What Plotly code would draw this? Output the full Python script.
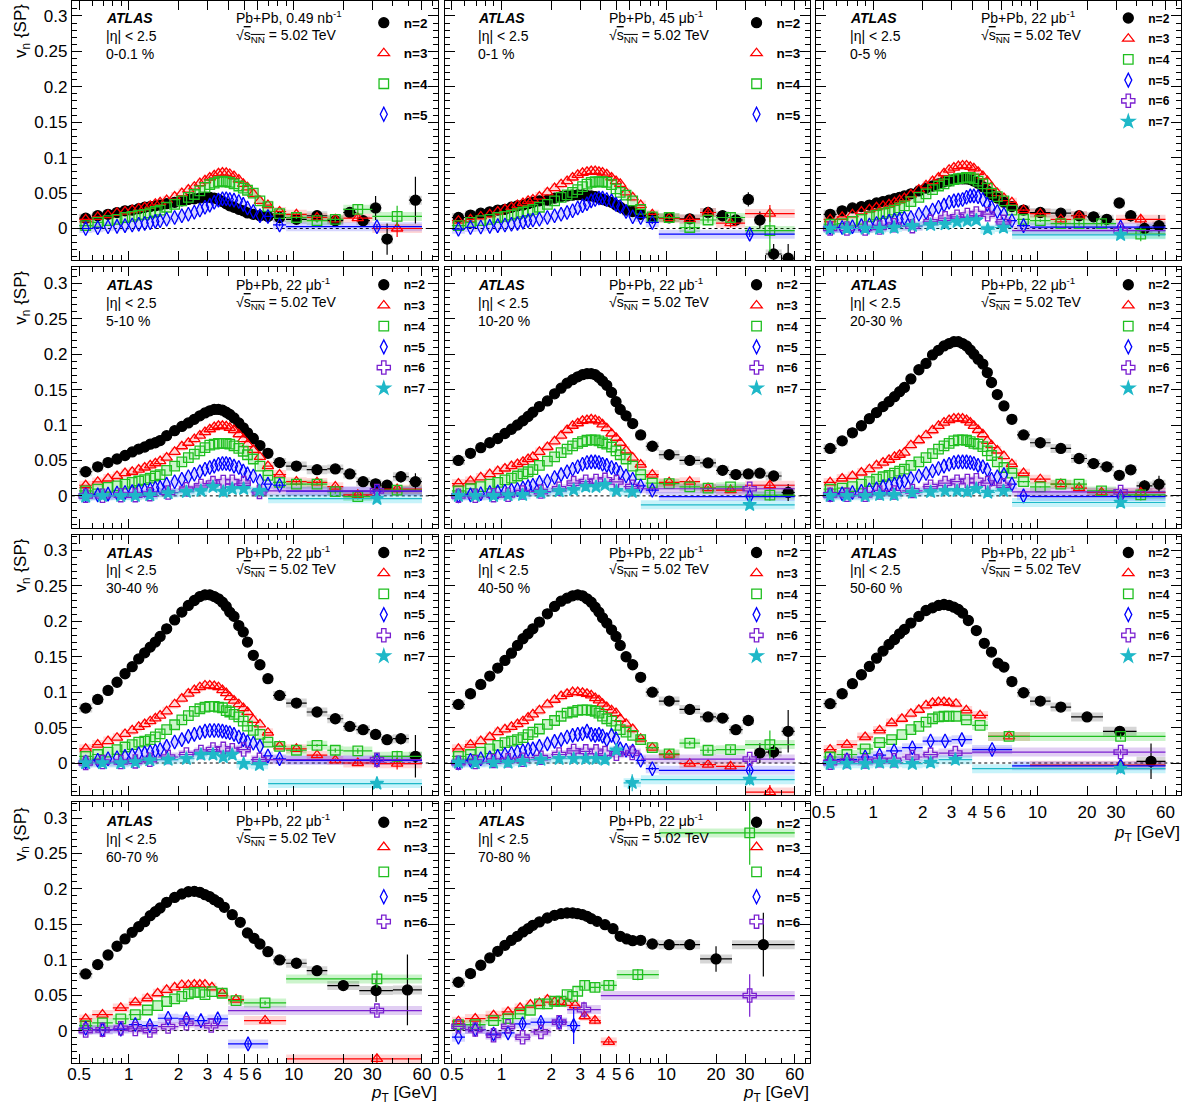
import math
import plotly.graph_objects as go

W, H = 1195, 1106
FONT = "Liberation Sans, Arial, Helvetica, sans-serif"

# ---------------- pT bin edges [GeV] ----------------
E_LOW = [0.5, 0.6, 0.7, 0.8, 0.9, 1.0, 1.1, 1.2, 1.3, 1.4, 1.5, 1.6, 1.8, 2.0, 2.2, 2.4, 2.6, 2.8,
         3.0, 3.2, 3.4, 3.6, 3.8, 4.0, 4.2, 4.5, 4.8, 5.1, 5.4, 6.0, 6.5, 7.5]
T_V2 = [9, 12, 16, 20, 24, 29, 34, 40, 50, 60]
T_HI = [9, 12, 16, 20, 30, 60]
T_V5 = [9, 60]
E_PER = [0.5, 0.6, 0.7, 0.8, 0.9, 1.0, 1.1, 1.2, 1.3, 1.4, 1.5, 1.6, 1.8, 2.0, 2.2, 2.4, 2.6, 2.8,
         3.0, 3.2, 3.4, 3.6, 4.0, 4.5, 5.0, 5.5, 6.0, 6.5, 7.5, 9, 12, 16, 25, 40, 60]
E_PER70 = [0.5, 0.6, 0.7, 0.8, 0.9, 1.0, 1.1, 1.2, 1.3, 1.4, 1.5, 1.6, 1.8, 2.0, 2.2, 2.4, 2.6, 2.8,
           3.0, 3.2, 3.4, 3.6, 4.0, 4.5, 5.0, 5.5, 6.0, 6.5, 7.5, 9, 12, 16, 25, 60]
E_HI = [0.5, 0.6, 0.8, 1.0, 1.2, 1.5, 2.0, 2.5, 3.0, 3.5, 4.0, 4.5, 5.5, 7.0, 60]
E_COARSE = [0.5, 0.6, 0.8, 1.0, 1.2, 1.4, 1.6, 1.8, 2.0, 2.2, 2.4, 2.6, 2.8, 3.0, 3.4, 4.0, 5.0, 9.0, 60]
E_R70 = [0.5, 0.6, 0.8, 1.0, 1.2, 1.4, 1.6, 1.8, 2.0, 2.2, 2.4, 2.6, 3.0, 3.4, 4.0, 5.0]
E_B = [0.5, 0.6, 0.8, 1.0, 1.2, 1.5, 2.0, 2.5, 3.0, 4.0, 7.0, 60]
E_B60 = [0.5, 0.6, 0.8, 1.0, 1.2, 1.5, 2.0, 2.5, 3.0, 4.0, 7.0]
E_B70 = [0.5, 0.6, 0.8, 1.0, 1.2, 1.5, 2.0, 2.5, 3.0]
E_P = [0.5, 0.6, 0.8, 1.0, 1.2, 1.5, 2.0, 2.5, 4.0, 60]
WIDE_BIN_PT = 32.0   # where the markers of the very wide high-pT bins are drawn

# ---------------- 0-0.1 % ----------------
C0_V2_LOW = [0.0146, 0.018, 0.020, 0.0225, 0.025, 0.026, 0.028, 0.030, 0.031, 0.032, 0.033, 0.035, 0.037, 0.039, 0.041,
             0.042, 0.043, 0.044, 0.044, 0.043, 0.041, 0.038, 0.035, 0.032, 0.030, 0.027, 0.025, 0.022, 0.020, 0.018, 0.017]
C0_V2_TAIL = [0.0155, 0.013, 0.018, 0.011, 0.0226, 0.011, 0.029, -0.015, None, 0.040]
C0_V2_TERR = [0.002, 0.002, 0.003, 0.004, 0.005, 0.007, 0.017, 0.022, 0.0, 0.033]
C0_V3_LOW = [0.013, 0.0165, 0.019, 0.022, 0.024, 0.026, 0.028, 0.030, 0.032, 0.035, 0.037, 0.040, 0.045, 0.050, 0.055,
             0.059, 0.064, 0.068, 0.072, 0.075, 0.078, 0.079, 0.0785, 0.077, 0.074, 0.069, 0.063, 0.058, 0.049, 0.039, 0.033]
C0_V3_TAIL = [0.024, 0.020, 0.0155, 0.013, 0.0146, 0.0]
C0_V3_TERR = [0.001, 0.002, 0.003, 0.004, 0.005, 0.012]
C0_V4_LOW = [0.004, 0.0085, 0.011, 0.013, 0.0155, 0.017, 0.019, 0.020, 0.022, 0.024, 0.026, 0.030, 0.034, 0.039, 0.044,
             0.048, 0.053, 0.058, 0.062, 0.064, 0.066, 0.067, 0.066, 0.065, 0.063, 0.060, 0.057, 0.054, 0.050, 0.039, 0.031]
C0_V4_TAIL = [0.021, 0.0155, 0.011, 0.013, 0.027, 0.017]
C0_V4_TERR = [0.002, 0.002, 0.003, 0.004, 0.006, 0.015]
C0_V5_LOW = [0.0, 0.001, 0.0025, 0.003, 0.004, 0.005, 0.006, 0.007, 0.008, 0.010, 0.011, 0.013, 0.0155, 0.018, 0.020,
             0.023, 0.026, 0.030, 0.033, 0.037, 0.040, 0.042, 0.042, 0.041, 0.040, 0.038, 0.034, 0.029, 0.024, 0.018, 0.017]
C0_V5_TAIL = [0.005, 0.0025]
C0_V5_TERR = [0.002, 0.004]

# ---------------- 0-1 % ----------------
C1_V2_LOW = [0.0155, 0.019, 0.0216, 0.0235, 0.026, 0.027, 0.030, 0.032, 0.033, 0.035, 0.037, 0.039, 0.040, 0.043, 0.045,
             0.046, 0.047, 0.0475, 0.0475, 0.0465, 0.046, 0.045, 0.043, 0.041, 0.039, 0.037, 0.033, 0.030, 0.026, 0.024, 0.020]
C1_V2_TAIL = [0.0155, 0.015, 0.0136, 0.0226, 0.018, 0.012, 0.041, 0.012, -0.036, -0.042]
C1_V2_TERR = [0.001, 0.002, 0.002, 0.003, 0.004, 0.005, 0.010, 0.012, 0.014, 0.020]
C1_V3_LOW = [0.011, 0.013, 0.017, 0.020, 0.024, 0.027, 0.030, 0.033, 0.036, 0.039, 0.041, 0.045, 0.051, 0.057, 0.0625,
             0.067, 0.072, 0.0757, 0.0785, 0.080, 0.081, 0.081, 0.080, 0.079, 0.0766, 0.072, 0.067, 0.063, 0.051, 0.044, 0.033]
C1_V3_TAIL = [0.020, 0.0146, 0.013, 0.0226, 0.0075, 0.021]
C1_V3_TERR = [0.001, 0.002, 0.003, 0.004, 0.006, 0.012]
C1_V4_LOW = [0.004, 0.0085, 0.011, 0.013, 0.0155, 0.017, 0.019, 0.021, 0.023, 0.025, 0.027, 0.030, 0.034, 0.039, 0.044,
             0.0475, 0.051, 0.055, 0.059, 0.0625, 0.065, 0.066, 0.066, 0.066, 0.065, 0.062, 0.056, 0.051, 0.047, 0.039, 0.027]
C1_V4_TAIL = [0.0165, 0.0155, 0.0014, 0.012, 0.0155, -0.003]
C1_V4_TERR = [0.001, 0.002, 0.003, 0.004, 0.006, 0.030]
C1_V5_LOW = [-0.001, 0.0014, 0.002, 0.003, 0.004, 0.005, 0.006, 0.007, 0.009, 0.011, 0.012, 0.013, 0.0155, 0.018, 0.020,
             0.0226, 0.025, 0.029, 0.032, 0.035, 0.039, 0.041, 0.043, 0.043, 0.041, 0.039, 0.034, 0.031, 0.024, 0.0165, 0.0155]
C1_V5_TAIL = [0.0085, -0.008]
C1_V5_TERR = [0.002, 0.004]

# ---------------- 0-5 % ----------------
C2_V2_LOW = [0.020, 0.025, 0.029, 0.031, 0.033, 0.036, 0.038, 0.040, 0.042, 0.044, 0.046, 0.049, 0.053, 0.057, 0.060,
             0.063, 0.066, 0.067, 0.069, 0.070, 0.070, 0.070, 0.069, 0.067, 0.064, 0.059, 0.053, 0.048, 0.043, 0.037, 0.031]
C2_V2_TAIL = [0.026, 0.0226, 0.0216, 0.018, 0.0165, 0.013, 0.036, 0.018, 0.0, 0.004]
C2_V2_TERR = [0.001, 0.002, 0.002, 0.003, 0.003, 0.004, 0.005, 0.008, 0.010, 0.015]
C2_V3_LOW = [0.013, 0.0165, 0.020, 0.024, 0.027, 0.030, 0.032, 0.034, 0.037, 0.040, 0.043, 0.048, 0.055, 0.061, 0.067,
             0.072, 0.078, 0.083, 0.086, 0.088, 0.089, 0.089, 0.087, 0.085, 0.080, 0.074, 0.067, 0.059, 0.050, 0.043, 0.037]
C2_V3_TAIL = [0.026, 0.021, 0.013, 0.018, None, 0.013]
C2_V3_TERR = [0.001, 0.002, 0.003, 0.004, 0.0, 0.006]
C2_V4_LOW = [0.006, 0.007, 0.010, 0.013, 0.0165, 0.019, 0.021, 0.023, 0.026, 0.029, 0.032, 0.038, 0.044, 0.049, 0.055,
             0.060, 0.063, 0.067, 0.069, 0.0705, 0.071, 0.072, 0.072, 0.070, 0.067, 0.063, 0.057, 0.050, 0.045, 0.039, 0.026]
C2_V4_TAIL = [0.013, 0.011, 0.007, 0.007, 0.007, -0.008]
C2_V4_TERR = [0.001, 0.002, 0.002, 0.003, 0.004, 0.010]
C2_V5_LOW = [0.0014, 0.0014, 0.0025, 0.004, 0.005, 0.007, 0.0085, 0.010, 0.012, 0.013, 0.0145, 0.0155, 0.020, 0.0226, 0.026,
             0.030, 0.033, 0.037, 0.039, 0.040, 0.041, 0.044, 0.046, 0.046, 0.045, 0.041, 0.034, 0.030, 0.024, 0.020, 0.011]
C2_V5_TAIL = [0.004, 0.002]
C2_V5_TERR = [0.002, 0.003]
C2_V6 = [0.0, 0.0, 0.0, 0.0014, 0.0047, 0.0033, 0.0094, 0.0146, 0.0165, 0.019, 0.0212, 0.0202, 0.0094, -0.003]
C2_V6_TERR = [0.003]
C2_V7 = [0.0, 0.0, 0.0, 0.0, 0.0014, 0.0038, 0.0052, 0.0061, 0.0094, 0.0108, 0.0118, -0.0009, 0.0014, -0.009]
C2_V7_TERR = [0.004]

# ---------------- 5-10 % ----------------
C3_V2_LOW = [0.034, 0.041, 0.047, 0.052, 0.057, 0.062, 0.066, 0.069, 0.073, 0.075, 0.078, 0.085, 0.092, 0.098, 0.103,
             0.108, 0.113, 0.117, 0.120, 0.122, 0.122, 0.121, 0.118, 0.115, 0.110, 0.103, 0.096, 0.089, 0.081, 0.071, 0.060]
C3_V2_TAIL = [0.047, 0.042, 0.037, 0.038, 0.031, 0.020, 0.017, 0.015, 0.027, 0.020]
C3_V2_TERR = [0.001, 0.001, 0.002, 0.002, 0.003, 0.003, 0.004, 0.006, 0.008, 0.012]
C3_V3_LOW = [0.015, 0.0197, 0.0245, 0.028, 0.032, 0.034, 0.037, 0.040, 0.043, 0.046, 0.049, 0.054, 0.062, 0.070, 0.075,
             0.080, 0.085, 0.090, 0.094, 0.097, 0.099, 0.099, 0.098, 0.096, 0.093, 0.087, 0.080, 0.073, 0.065, 0.055, 0.042]
C3_V3_TAIL = [0.030, 0.020, 0.019, 0.013, 0.0014, 0.0094]
C3_V3_TERR = [0.001, 0.002, 0.002, 0.003, 0.004, 0.006]
C3_V4_LOW = [0.007, 0.0094, 0.012, 0.014, 0.0165, 0.019, 0.021, 0.023, 0.025, 0.028, 0.030, 0.036, 0.042, 0.048, 0.054,
             0.059, 0.0635, 0.068, 0.0715, 0.073, 0.074, 0.074, 0.074, 0.073, 0.0705, 0.067, 0.063, 0.058, 0.052, 0.042, 0.029]
C3_V4_TAIL = [0.019, 0.0165, 0.0165, 0.006, -0.001, 0.008]
C3_V4_TERR = [0.001, 0.002, 0.002, 0.003, 0.004, 0.006]
C3_V5_LOW = [0.0014, 0.0014, 0.0024, 0.004, 0.0047, 0.006, 0.007, 0.008, 0.009, 0.011, 0.012, 0.0165, 0.020, 0.0235, 0.027,
             0.0306, 0.034, 0.0376, 0.040, 0.042, 0.0447, 0.0456, 0.0456, 0.0447, 0.042, 0.040, 0.035, 0.031, 0.028, 0.021, 0.0165]
C3_V5_TAIL = [0.015, 0.0066]
C3_V5_TERR = [0.002, 0.003]
C3_V6 = [0.0, 0.0, 0.001, 0.001, 0.0024, 0.0047, 0.0094, 0.014, 0.018, 0.0197, 0.020, 0.018, 0.0056, 0.007]
C3_V6_TERR = [0.003]
C3_V7 = [-0.001, 0.0, 0.0, 0.0, 0.001, 0.004, 0.0056, 0.007, 0.0127, 0.006, 0.010, 0.010, 0.007, -0.004]
C3_V7_TERR = [0.004]

# ---------------- 10-20 % ----------------
C4_V2_LOW = [0.050, 0.060, 0.068, 0.075, 0.081, 0.088, 0.094, 0.100, 0.106, 0.112, 0.118, 0.126, 0.134, 0.144, 0.152,
             0.159, 0.164, 0.168, 0.171, 0.1725, 0.1725, 0.171, 0.167, 0.162, 0.156, 0.146, 0.133, 0.122, 0.113, 0.102, 0.086]
C4_V2_TAIL = [0.070, 0.058, 0.050, 0.0465, 0.036, 0.030, 0.031, 0.032, 0.028, 0.0047]
C4_V2_TERR = [0.001, 0.001, 0.001, 0.002, 0.002, 0.003, 0.004, 0.006, 0.006, 0.012]
C4_V3_LOW = [0.0174, 0.021, 0.026, 0.0306, 0.035, 0.0386, 0.042, 0.045, 0.048, 0.052, 0.055, 0.062, 0.069, 0.077, 0.085,
             0.093, 0.099, 0.1025, 0.106, 0.107, 0.108, 0.107, 0.105, 0.101, 0.0955, 0.088, 0.082, 0.075, 0.064, 0.054, 0.044]
C4_V3_TAIL = [0.030, 0.019, 0.020, 0.011, 0.008, 0.015]
C4_V3_TERR = [0.001, 0.001, 0.002, 0.003, 0.004, 0.006]
C4_V4_LOW = [0.007, 0.010, 0.013, 0.0165, 0.019, 0.0226, 0.025, 0.028, 0.031, 0.034, 0.037, 0.043, 0.049, 0.055, 0.061,
             0.066, 0.0705, 0.074, 0.0766, 0.0785, 0.079, 0.079, 0.0775, 0.075, 0.073, 0.069, 0.0635, 0.058, 0.052, 0.042, 0.030]
C4_V4_TAIL = [0.018, 0.0174, 0.0127, 0.011, 0.0127, 0.001]
C4_V4_TERR = [0.001, 0.001, 0.002, 0.003, 0.004, 0.008]
C4_V5_LOW = [0.0, 0.0014, 0.003, 0.0047, 0.0056, 0.0066, 0.008, 0.009, 0.011, 0.013, 0.015, 0.019, 0.021, 0.026, 0.030,
             0.034, 0.0376, 0.041, 0.0447, 0.047, 0.048, 0.048, 0.047, 0.0447, 0.043, 0.040, 0.0376, 0.033, 0.028, 0.0235, 0.014]
C4_V5_TAIL = [0.008, -0.001]
C4_V5_TERR = [0.002, 0.003]
C4_V6 = [0.0, 0.0, 0.001, 0.0014, 0.0047, 0.006, 0.010, 0.018, 0.020, 0.021, 0.0226, 0.0197, 0.013, 0.010]
C4_V6_TERR = [0.003]
C4_V7 = [0.0, 0.0, 0.0, 0.001, 0.0014, 0.0047, 0.0066, 0.0085, 0.013, 0.0127, 0.0155, 0.007, 0.0056, -0.0127]
C4_V7_TERR = [0.005]

# ---------------- 20-30 % ----------------
C5_V2_LOW = [0.067, 0.0776, 0.089, 0.099, 0.109, 0.1175, 0.126, 0.133, 0.140, 0.147, 0.153, 0.165, 0.178, 0.187, 0.199,
             0.2055, 0.2116, 0.215, 0.2177, 0.2177, 0.215, 0.2116, 0.206, 0.200, 0.193, 0.186, 0.174, 0.160, 0.143, 0.127, 0.108]
C5_V2_TAIL = [0.086, 0.075, 0.067, 0.0527, 0.0456, 0.041, 0.029, 0.0367, 0.014, 0.0165]
C5_V2_TERR = [0.001, 0.001, 0.002, 0.002, 0.003, 0.003, 0.004, 0.006, 0.008, 0.012]
C5_V3_LOW = [0.019, 0.0245, 0.028, 0.033, 0.0376, 0.043, 0.047, 0.051, 0.055, 0.058, 0.061, 0.0715, 0.0785, 0.0856, 0.0926,
             0.0987, 0.1034, 0.107, 0.109, 0.1095, 0.109, 0.107, 0.1034, 0.0987, 0.093, 0.087, 0.0776, 0.0715, 0.064, 0.056, 0.0447]
C5_V3_TAIL = [0.032, 0.0235, 0.0165, 0.011, 0.0047, 0.0047]
C5_V3_TERR = [0.001, 0.001, 0.002, 0.003, 0.004, 0.006]
C5_V4_LOW = [0.0094, 0.011, 0.013, 0.0165, 0.020, 0.0235, 0.027, 0.029, 0.032, 0.035, 0.0376, 0.043, 0.048, 0.054, 0.0597,
             0.066, 0.0705, 0.074, 0.0776, 0.079, 0.079, 0.0785, 0.0766, 0.074, 0.073, 0.0696, 0.0635, 0.057, 0.048, 0.040, 0.032]
C5_V4_TAIL = [0.020, 0.0127, 0.0165, 0.0165, 0.007, 0.0014]
C5_V4_TERR = [0.001, 0.001, 0.002, 0.003, 0.004, 0.008]
C5_V5_LOW = [0.0014, 0.003, 0.0047, 0.0066, 0.0085, 0.010, 0.013, 0.015, 0.0165, 0.019, 0.021, 0.0245, 0.028, 0.0315, 0.035,
             0.0386, 0.042, 0.0447, 0.047, 0.048, 0.048, 0.048, 0.047, 0.0456, 0.043, 0.041, 0.0367, 0.0235, 0.027, 0.030, 0.0165]
C5_V5_TAIL = [0.0, -0.001]
C5_V5_TERR = [0.002, 0.003]
C5_V6 = [0.0014, 0.0014, 0.0014, 0.0047, 0.0047, 0.007, 0.013, 0.018, 0.020, 0.021, 0.022, 0.018, 0.015, 0.0056]
C5_V6_TERR = [0.003]
C5_V7 = [0.0, 0.0, 0.0, 0.0014, 0.0014, 0.0047, 0.0056, 0.007, 0.007, 0.006, 0.010, 0.0047, 0.007, -0.0094]
C5_V7_TERR = [0.005]

# ---------------- 30-40 % ----------------
C6_V2_LOW = [0.0776, 0.0898, 0.1025, 0.114, 0.126, 0.136, 0.147, 0.1556, 0.1636, 0.1707, 0.1787, 0.1895, 0.202, 0.213, 0.2224,
             0.2294, 0.235, 0.2374, 0.2374, 0.235, 0.2318, 0.227, 0.221, 0.213, 0.207, 0.194, 0.185, 0.1707, 0.152, 0.1387, 0.119]
C6_V2_TAIL = [0.0954, 0.0846, 0.072, 0.0625, 0.0517, 0.047, 0.0404, 0.033, 0.0343, 0.0094]
C6_V2_TERR = [0.001, 0.001, 0.002, 0.002, 0.003, 0.003, 0.004, 0.006, 0.008, 0.030]
C6_V3_LOW = [0.020, 0.026, 0.031, 0.0357, 0.041, 0.046, 0.051, 0.055, 0.059, 0.063, 0.067, 0.073, 0.083, 0.091, 0.098,
             0.103, 0.107, 0.1095, 0.1095, 0.1086, 0.107, 0.103, 0.0987, 0.093, 0.088, 0.083, 0.0776, 0.072, 0.061, 0.0545, 0.0428]
C6_V3_TAIL = [0.0235, 0.020, 0.011, 0.0038, 0.0, -0.001]
C6_V3_TERR = [0.001, 0.001, 0.002, 0.003, 0.004, 0.008]
C6_V4_LOW = [0.0094, 0.012, 0.0155, 0.019, 0.0226, 0.026, 0.0296, 0.031, 0.033, 0.037, 0.041, 0.047, 0.054, 0.061, 0.067,
             0.073, 0.0766, 0.079, 0.080, 0.080, 0.079, 0.078, 0.074, 0.072, 0.0686, 0.065, 0.059, 0.052, 0.046, 0.0404, 0.0296]
C6_V4_TAIL = [0.0235, 0.018, 0.025, 0.018, 0.017, 0.0094]
C6_V4_TERR = [0.001, 0.001, 0.002, 0.003, 0.004, 0.008]
C6_V5_LOW = [0.0014, 0.004, 0.006, 0.0075, 0.0094, 0.011, 0.013, 0.014, 0.0155, 0.017, 0.019, 0.0235, 0.0296, 0.033, 0.0376,
             0.0404, 0.0428, 0.045, 0.046, 0.046, 0.046, 0.045, 0.0437, 0.0428, 0.0404, 0.0367, 0.033, 0.030, 0.028, 0.0235, 0.010]
C6_V5_TAIL = [0.006, 0.0038]
C6_V5_TERR = [0.002, 0.003]
C6_V6 = [0.0, 0.0014, 0.0014, 0.0023, 0.0047, 0.0085, 0.012, 0.0155, 0.019, 0.020, 0.018, 0.019, 0.0047, 0.0047]
C6_V6_TERR = [0.004]
C6_V7 = [0.0, 0.0, 0.0, 0.0014, 0.004, 0.0047, 0.006, 0.0118, 0.012, 0.0085, 0.0118, -0.001, -0.0024, -0.029]
C6_V7_TERR = [0.007]

# ---------------- 40-50 % ----------------
C7_V2_LOW = [0.0827, 0.0978, 0.111, 0.1227, 0.134, 0.1448, 0.155, 0.166, 0.1754, 0.1824, 0.1895, 0.1989, 0.2106, 0.221, 0.2285,
             0.2327, 0.236, 0.2374, 0.236, 0.2318, 0.227, 0.220, 0.213, 0.205, 0.1975, 0.188, 0.1787, 0.166, 0.150, 0.1387, 0.121]
C7_V2_TAIL = [0.100, 0.0874, 0.0757, 0.065, 0.0635, 0.047, 0.060, 0.014, 0.0155, 0.0447]
C7_V2_TERR = [0.001, 0.002, 0.002, 0.003, 0.004, 0.004, 0.006, 0.014, 0.010, 0.030]
C7_V3_LOW = [0.020, 0.026, 0.031, 0.0367, 0.0437, 0.0475, 0.051, 0.055, 0.059, 0.064, 0.0686, 0.0743, 0.0827, 0.0893, 0.0945,
             0.0978, 0.100, 0.100, 0.099, 0.0978, 0.0954, 0.0917, 0.0884, 0.0837, 0.079, 0.0743, 0.0705, 0.0625, 0.0555, 0.048, 0.0343]
C7_V3_TAIL = [0.0216, 0.0118, -0.001, -0.0024, -0.0047, -0.041]
C7_V3_TERR = [0.001, 0.002, 0.002, 0.003, 0.004, 0.010]
C7_V4_LOW = [0.0094, 0.012, 0.0155, 0.020, 0.025, 0.0287, 0.031, 0.033, 0.0357, 0.040, 0.0437, 0.048, 0.0545, 0.060, 0.066,
             0.0705, 0.072, 0.0743, 0.075, 0.075, 0.0743, 0.073, 0.0705, 0.0663, 0.0625, 0.059, 0.053, 0.047, 0.0437, 0.039, 0.033]
C7_V4_TAIL = [0.0216, 0.013, 0.028, 0.018, 0.0188, 0.026]
C7_V4_TERR = [0.001, 0.002, 0.003, 0.004, 0.005, 0.020]
C7_V5_LOW = [0.0, 0.0038, 0.006, 0.0075, 0.0094, 0.012, 0.0135, 0.0155, 0.017, 0.019, 0.020, 0.0235, 0.027, 0.0306, 0.033,
             0.0367, 0.039, 0.0404, 0.0414, 0.045, 0.0404, 0.039, 0.0404, 0.038, 0.033, 0.039, 0.0343, 0.020, 0.018, 0.017, 0.0038]
C7_V5_TAIL = [-0.008, -0.0103]
C7_V5_TERR = [0.002, 0.004]
C7_V6 = [0.0005, 0.0014, 0.0028, 0.0038, 0.0047, 0.0075, 0.012, 0.017, 0.0165, 0.0165, 0.014, 0.013, 0.014, 0.0056]
C7_V6_TERR = [0.004]
C7_V7 = [0.0005, 0.0, 0.0005, 0.0005, 0.0023, 0.0047, 0.006, 0.006, 0.006, 0.006, 0.0047, 0.018, -0.028, -0.0235]
C7_V7_TERR = [0.012, 0.008]

# ---------------- 50-60 % ----------------
C8_V2 = [0.0837, 0.0978, 0.112, 0.1246, 0.1363, 0.148, 0.158, 0.1674, 0.1744, 0.1824, 0.1885, 0.1975, 0.2069, 0.2153, 0.219,
         0.2224, 0.2238, 0.2224, 0.220, 0.2167, 0.2116, 0.2012, 0.187, 0.169, 0.1566, 0.141, 0.1354, 0.115, 0.0992, 0.0874,
         0.079, 0.065, 0.0447, 0.0024]
C8_V2_TERR = [0.001, 0.002, 0.002, 0.004, 0.006, 0.025]
C8_V3 = [0.019, 0.026, 0.0367, 0.046, 0.0564, 0.0625, 0.0696, 0.0752, 0.0813, 0.085, 0.086, 0.086, 0.085, 0.0837, 0.0743,
         0.0672, 0.0376, -0.003]
C8_V3_TERR = [0.003, 0.004]
C8_V4 = [0.0085, 0.012, 0.020, 0.0287, 0.033, 0.040, 0.047, 0.0517, 0.0578, 0.0625, 0.065, 0.066, 0.066, 0.066, 0.061,
         0.053, 0.0376, 0.0376]
C8_V4_TERR = [0.003, 0.004]
C8_V5 = [0.0038, 0.0047, 0.0085, 0.011, 0.017, 0.0216, 0.031, 0.031, 0.033, 0.019, -0.004]
C8_V5_TERR = [0.003, 0.004]
C8_V6 = [0.0005, 0.0028, 0.0023, 0.0038, 0.0038, 0.0085, 0.0118, 0.014, 0.0155]
C8_V6_TERR = [0.004]
C8_V7 = [-0.001, -0.001, -0.001, 0.0005, 0.0005, -0.001, 0.0005, 0.0047, -0.008]
C8_V7_TERR = [0.005]

# ---------------- 60-70 % ----------------
C9_V2 = [0.0799, 0.0931, 0.1067, 0.119, 0.1293, 0.1387, 0.1467, 0.1537, 0.1622, 0.1679, 0.173, 0.181, 0.188, 0.1928, 0.196,
         0.1965, 0.1951, 0.1918, 0.189, 0.1848, 0.181, 0.174, 0.1636, 0.1528, 0.1378, 0.1302, 0.1222, 0.1114, 0.0997, 0.095,
         0.0846, 0.0635, 0.0564, 0.0574]
C9_V2_TERR = [0.002, 0.003, 0.004, 0.005, 0.016, 0.050]
C9_V3 = [0.0165, 0.0226, 0.032, 0.040, 0.0456, 0.0527, 0.0574, 0.0611, 0.0644, 0.0644, 0.0649, 0.0649, 0.0649, 0.0611, 0.0527,
         0.0437, 0.0141, -0.040]
C9_V3_TERR = [0.003, 0.006]
C9_V4 = [0.007, 0.0108, 0.0165, 0.0226, 0.029, 0.0353, 0.041, 0.0447, 0.0484, 0.0517, 0.054, 0.054, 0.0508, 0.055, 0.0527,
         0.0423, 0.039, 0.0729]
C9_V4_TERR = [0.003, 0.012]
C9_V5 = [0.0033, 0.001, 0.002, 0.0085, 0.007, 0.0174, 0.0165, 0.0141, 0.0165, -0.0188]
C9_V5_TERR = [0.004, 0.005]
C9_V6 = [0.0, 0.001, 0.0033, 0.0023, 0.0, 0.0056, 0.0103, 0.007, 0.0282]
C9_V6_TERR = [0.004, 0.006]

# ---------------- 70-80 % ----------------
C10_V2 = [0.0682, 0.0804, 0.0922, 0.1025, 0.1119, 0.1204, 0.1274, 0.1331, 0.1392, 0.1439, 0.1486, 0.1533, 0.1589, 0.1627,
          0.165, 0.166, 0.166, 0.165, 0.1636, 0.1613, 0.158, 0.1542, 0.1495, 0.1439, 0.1331, 0.1293, 0.1269, 0.1274, 0.1222,
          0.1213, 0.1213, 0.1011, 0.1213]
C10_V2_TERR = [0.002, 0.003, 0.004, 0.005, 0.018, 0.045]
C10_V3 = [0.0132, 0.0169, 0.0216, 0.0263, 0.032, 0.0367, 0.039, 0.0437, 0.0404, 0.0404, 0.039, 0.0357, 0.0202, 0.0141, -0.016]
C10_V3_TERR = [0.004, 0.005, 0.004]
C10_V4 = [0.0085, 0.0085, 0.0141, 0.0169, 0.0235, 0.0287, 0.0376, 0.0376, 0.0414, 0.0414, 0.0508, 0.0484, 0.0555, 0.0639,
          0.0611, 0.0639, 0.079, 0.279]
C10_V4_TERR = [0.006, 0.007, 0.006, 0.008, 0.045]
C10_V5 = [-0.0094, 0.0014, -0.005, -0.0033, 0.0094, 0.0118, 0.0118, 0.007]
C10_V5_TERR = [0.005, 0.005, 0.005, 0.026]
C10_V6 = [0.006, 0.0014, -0.0066, 0.006, -0.0094, -0.0019, 0.0118, 0.0296, 0.0494]
C10_V6_TERR = [0.011, 0.030]

CENTRALITY = ["0-0.1 %", "0-1 %", "0-5 %", "5-10 %", "10-20 %", "20-30 %", "30-40 %", "40-50 %", "50-60 %",
              "60-70 %", "70-80 %"]
LUMI = ["0.49 nb<sup>-1</sup>", "45 μb<sup>-1</sup>"] + ["22 μb<sup>-1</sup>"] * 9

X_TICKS = [0.5, 1, 2, 3, 4, 5, 6, 10, 20, 30, 60]
X_TICKTEXT = ["0.5", "1", "2", "3", "4", "5", "6", "10", "20", "30", "60"]
X_MINOR = [0.6, 0.7, 0.8, 0.9, 7, 8, 9, 40, 50, 70]
Y_TICKS = [0, 0.05, 0.1, 0.15, 0.2, 0.25, 0.3]
Y_TICKTEXT = ["0", "0.05", "0.1", "0.15", "0.2", "0.25", "0.3"]


def fine(low, tail, tail_edges, tail_err):
    return (E_LOW + tail_edges, low + tail, [0.0] * len(low) + tail_err)


def coarse(edges, vals, tail_err):
    return (edges, vals, [0.0] * (len(vals) - len(tail_err)) + tail_err)


PANEL_SERIES = [
    {2: fine(C0_V2_LOW, C0_V2_TAIL, T_V2, C0_V2_TERR), 3: fine(C0_V3_LOW, C0_V3_TAIL, T_HI, C0_V3_TERR),
     4: fine(C0_V4_LOW, C0_V4_TAIL, T_HI, C0_V4_TERR), 5: fine(C0_V5_LOW, C0_V5_TAIL, T_V5, C0_V5_TERR)},
    {2: fine(C1_V2_LOW, C1_V2_TAIL, T_V2, C1_V2_TERR), 3: fine(C1_V3_LOW, C1_V3_TAIL, T_HI, C1_V3_TERR),
     4: fine(C1_V4_LOW, C1_V4_TAIL, T_HI, C1_V4_TERR), 5: fine(C1_V5_LOW, C1_V5_TAIL, T_V5, C1_V5_TERR)},
    {2: fine(C2_V2_LOW, C2_V2_TAIL, T_V2, C2_V2_TERR), 3: fine(C2_V3_LOW, C2_V3_TAIL, T_HI, C2_V3_TERR),
     4: fine(C2_V4_LOW, C2_V4_TAIL, T_HI, C2_V4_TERR), 5: fine(C2_V5_LOW, C2_V5_TAIL, T_V5, C2_V5_TERR),
     6: coarse(E_HI, C2_V6, C2_V6_TERR), 7: coarse(E_HI, C2_V7, C2_V7_TERR)},
    {2: fine(C3_V2_LOW, C3_V2_TAIL, T_V2, C3_V2_TERR), 3: fine(C3_V3_LOW, C3_V3_TAIL, T_HI, C3_V3_TERR),
     4: fine(C3_V4_LOW, C3_V4_TAIL, T_HI, C3_V4_TERR), 5: fine(C3_V5_LOW, C3_V5_TAIL, T_V5, C3_V5_TERR),
     6: coarse(E_HI, C3_V6, C3_V6_TERR), 7: coarse(E_HI, C3_V7, C3_V7_TERR)},
    {2: fine(C4_V2_LOW, C4_V2_TAIL, T_V2, C4_V2_TERR), 3: fine(C4_V3_LOW, C4_V3_TAIL, T_HI, C4_V3_TERR),
     4: fine(C4_V4_LOW, C4_V4_TAIL, T_HI, C4_V4_TERR), 5: fine(C4_V5_LOW, C4_V5_TAIL, T_V5, C4_V5_TERR),
     6: coarse(E_HI, C4_V6, C4_V6_TERR), 7: coarse(E_HI, C4_V7, C4_V7_TERR)},
    {2: fine(C5_V2_LOW, C5_V2_TAIL, T_V2, C5_V2_TERR), 3: fine(C5_V3_LOW, C5_V3_TAIL, T_HI, C5_V3_TERR),
     4: fine(C5_V4_LOW, C5_V4_TAIL, T_HI, C5_V4_TERR), 5: fine(C5_V5_LOW, C5_V5_TAIL, T_V5, C5_V5_TERR),
     6: coarse(E_HI, C5_V6, C5_V6_TERR), 7: coarse(E_HI, C5_V7, C5_V7_TERR)},
    {2: fine(C6_V2_LOW, C6_V2_TAIL, T_V2, C6_V2_TERR), 3: fine(C6_V3_LOW, C6_V3_TAIL, T_HI, C6_V3_TERR),
     4: fine(C6_V4_LOW, C6_V4_TAIL, T_HI, C6_V4_TERR), 5: fine(C6_V5_LOW, C6_V5_TAIL, T_V5, C6_V5_TERR),
     6: coarse(E_HI, C6_V6, C6_V6_TERR), 7: coarse(E_HI, C6_V7, C6_V7_TERR)},
    {2: fine(C7_V2_LOW, C7_V2_TAIL, T_V2, C7_V2_TERR), 3: fine(C7_V3_LOW, C7_V3_TAIL, T_HI, C7_V3_TERR),
     4: fine(C7_V4_LOW, C7_V4_TAIL, T_HI, C7_V4_TERR), 5: fine(C7_V5_LOW, C7_V5_TAIL, T_V5, C7_V5_TERR),
     6: coarse(E_HI, C7_V6, C7_V6_TERR), 7: coarse(E_HI, C7_V7, C7_V7_TERR)},
    {2: coarse(E_PER, C8_V2, C8_V2_TERR), 3: coarse(E_COARSE, C8_V3, C8_V3_TERR),
     4: coarse(E_COARSE, C8_V4, C8_V4_TERR), 5: coarse(E_B, C8_V5, C8_V5_TERR),
     6: coarse(E_P, C8_V6, C8_V6_TERR), 7: coarse(E_P, C8_V7, C8_V7_TERR)},
    {2: coarse(E_PER, C9_V2, C9_V2_TERR), 3: coarse(E_COARSE, C9_V3, C9_V3_TERR),
     4: coarse(E_COARSE, C9_V4, C9_V4_TERR), 5: coarse(E_B60, C9_V5, C9_V5_TERR),
     6: coarse(E_P, C9_V6, C9_V6_TERR)},
    {2: coarse(E_PER70, C10_V2, C10_V2_TERR), 3: coarse(E_R70, C10_V3, C10_V3_TERR),
     4: coarse(E_COARSE, C10_V4, C10_V4_TERR), 5: coarse(E_B70, C10_V5, C10_V5_TERR),
     6: coarse(E_P, C10_V6, C10_V6_TERR)},
]

# ---------------- styling / layout ----------------
COLORS = {2: "#000000", 3: "#ff0000", 4: "#1fbf1f", 5: "#0000ff", 6: "#7a1fd0", 7: "#1fb8c8"}
SYST_COLORS = {2: "rgba(0,0,0,0.16)", 3: "rgba(255,0,0,0.16)", 4: "rgba(0,200,0,0.2)", 5: "rgba(0,0,255,0.16)",
               6: "rgba(120,30,200,0.22)", 7: "rgba(0,200,230,0.22)"}
SYMBOLS = {2: "circle", 3: "triangle-up-open", 4: "square-open", 5: "diamond-tall-open", 6: "cross-open", 7: "star"}
SIZES = {2: 10, 3: 10, 4: 9.5, 5: 10, 6: 11, 7: 10}

COL_PX = [(68, 435), (442, 809), (815, 1181)]
ROW_PX = [(0, 259.5), (266, 527), (534, 795), (802, 1063)]
ROW_TEXT_TOP = [-1, 266, 534, 803]
ROW_ZERO_PX = [227.7, 495.3, 762.7, 1030.5]
PX_PER_UNIT = 709.0
X_RANGE = [math.log10(0.451), math.log10(74.6)]
LEGEND_STYLE = {4: dict(size=13.5, top=7.4, gap=10), 5: dict(size=13.5, top=3.7, gap=4.3),
                6: dict(size=12, top=3.5, gap=1.7)}

fig = go.Figure()
annotations = []
shapes = []
layout = dict(width=W, height=H, margin=dict(l=0, r=0, t=0, b=0), paper_bgcolor="white",
              plot_bgcolor="white", font=dict(family=FONT, size=16, color="black"), showlegend=True)


def px_x(px):
    return px / W


def px_y(py):
    return 1 - py / H


for i, series in enumerate(PANEL_SERIES):
    row, col = divmod(i, 3)
    k = i + 1
    xs_id = "x" if k == 1 else f"x{k}"
    ys_id = "y" if k == 1 else f"y{k}"
    leg_id = "legend" if k == 1 else f"legend{k}"
    L, R = COL_PX[col]
    T, B = ROW_PX[row]
    z0 = ROW_ZERO_PX[row]
    yr = [-(B - z0) / PX_PER_UNIT, (z0 - T) / PX_PER_UNIT]
    bottom_labels = (row == 3) or (row == 2 and col == 2)

    layout["xaxis" if k == 1 else f"xaxis{k}"] = dict(
        type="log", range=X_RANGE, domain=[px_x(L), px_x(R)], anchor=ys_id,
        showline=True, linecolor="black", linewidth=1, mirror="allticks",
        ticks="inside", ticklen=9, tickwidth=1, tickcolor="black",
        tickmode="array", tickvals=X_TICKS, ticktext=X_TICKTEXT, showticklabels=bottom_labels,
        ticklabelstandoff=(1 if row == 2 else -4),
        tickfont=dict(size=17, family=FONT), showgrid=False, zeroline=False,
        minor=dict(tickmode="array", tickvals=X_MINOR, ticks="inside", ticklen=5, tickcolor="black", showgrid=False))
    layout["yaxis" if k == 1 else f"yaxis{k}"] = dict(
        range=yr, domain=[px_y(B), px_y(T)], anchor=xs_id,
        showline=True, linecolor="black", linewidth=1, mirror="allticks",
        ticks="inside", ticklen=10, tickwidth=1, tickcolor="black",
        tickmode="array", tickvals=Y_TICKS, ticktext=Y_TICKTEXT, showticklabels=(col == 0),
        tickfont=dict(size=17, family=FONT), showgrid=False, zeroline=False,
        minor=dict(tickmode="array", tickvals=[round(j * 0.01, 2) for j in range(-4, 33) if j % 5],
                   ticks="inside", ticklen=5, tickcolor="black", showgrid=False))

    shapes.append(dict(type="line", xref=f"{xs_id} domain", yref=ys_id, x0=0, x1=1, y0=0, y1=0,
                       line=dict(color="black", width=1, dash="dot"), layer="below"))

    data_traces = []
    for n, (edges, vals, errs) in series.items():
        assert len(edges) == len(vals) + 1 and len(errs) == len(vals), (i, n, len(edges), len(vals), len(errs))
        xs, ys, em, ep, ey, sm, sp = [], [], [], [], [], [], []
        for j, v in enumerate(vals):
            if v is None:
                continue
            lo, hi = edges[j], edges[j + 1]
            c = WIDE_BIN_PT if hi / lo >= 4 else math.sqrt(lo * hi)
            xs.append(c)
            ys.append(v)
            sm.append(c - lo)
            sp.append(hi - c)
            if hi / lo >= 1.15:
                em.append(c - lo)
                ep.append(hi - c)
            else:
                em.append(0)
                ep.append(0)
            ey.append(errs[j] or 0)
        colr = COLORS[n]
        # systematic-uncertainty boxes (shaded band over the bin width)
        fig.add_trace(go.Scatter(
            x=xs, y=ys, mode="markers", xaxis=xs_id, yaxis=ys_id, showlegend=False, hoverinfo="skip",
            marker=dict(size=1, color="rgba(0,0,0,0)"),
            error_x=dict(type="data", symmetric=False, array=sp, arrayminus=sm, color=SYST_COLORS[n],
                         thickness=9, width=0)))
        data_traces.append(go.Scatter(
            x=xs, y=ys, mode="markers", name=f"<b>n={n}</b>", xaxis=xs_id, yaxis=ys_id,
            legend=leg_id, legendgroup=f"p{k}n{n}",
            marker=dict(symbol=SYMBOLS[n], size=SIZES[n], color=colr, line=dict(color=colr, width=1.3)),
            error_x=dict(type="data", symmetric=False, array=ep, arrayminus=em, color=colr, thickness=1.2, width=0),
            error_y=dict(type="data", array=ey, color=colr, thickness=1.2, width=0)))
    for tr in data_traces:
        fig.add_trace(tr)

    ls = LEGEND_STYLE[len(series)]
    TT = ROW_TEXT_TOP[row]
    layout[leg_id] = dict(x=px_x(L + 293), y=px_y(TT + ls["top"]), xanchor="left", yanchor="top",
                          bgcolor="rgba(0,0,0,0)", borderwidth=0, font=dict(size=ls["size"], family=FONT),
                          traceorder="grouped", tracegroupgap=ls["gap"], itemwidth=30)

    def txt(text, xpx, ypx, size=14, anchor="left"):
        annotations.append(dict(text=text, x=px_x(xpx), y=px_y(ypx), xref="paper", yref="paper",
                                xanchor=anchor, yanchor="middle", showarrow=False,
                                font=dict(size=size, family=FONT, color="black")))

    txt("<b><i>ATLAS</i></b>", L + 32, TT + 18)
    txt("|η| &lt; 2.5", L + 32, TT + 36)
    txt(CENTRALITY[i], L + 32, TT + 54)
    txt("Pb+Pb, " + LUMI[i], L + 163, TT + 17)
    txt("√<span style=\"text-decoration:overline\">s<sub>NN</sub></span> = 5.02 TeV", L + 163, TT + 36)

    if col == 0:
        annotations.append(dict(text="v<sub>n</sub> {SP}", x=px_x(18), y=px_y(TT + 2), xref="paper", yref="paper",
                                xanchor="center", yanchor="top", textangle=-90, showarrow=False,
                                font=dict(size=17, family=FONT, color="black")))
    if bottom_labels:
        annotations.append(dict(text="<i>p</i><sub>T</sub> [GeV]", x=px_x(R + 1),
                                y=px_y(B + (39 if row == 2 else 31)), xref="paper",
                                yref="paper", xanchor="right", yanchor="middle", showarrow=False,
                                font=dict(size=17, family=FONT, color="black")))

layout["annotations"] = annotations
layout["shapes"] = shapes
fig.update_layout(**layout)
fig.write_html("out.html", config={"displayModeBar": False},
               post_script="document.body.style.margin='0px';")
